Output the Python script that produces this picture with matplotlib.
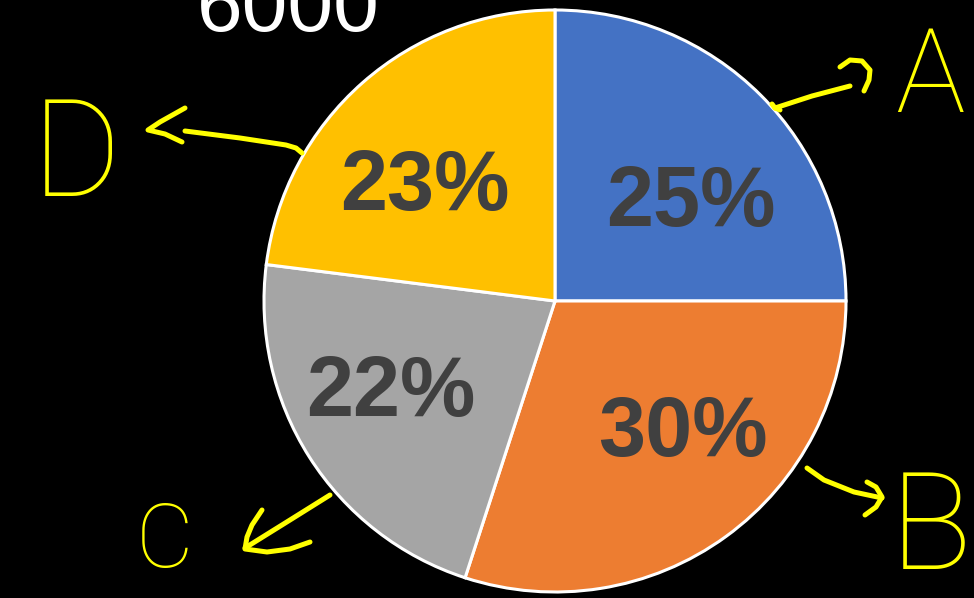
import matplotlib

matplotlib.use("Agg")
import matplotlib.pyplot as plt

W, H = 974, 598

# pie data
labels = ["A", "B", "C", "D"]
shares = [25, 30, 22, 23]
colors = ["#4472C4", "#ED7D31", "#A5A5A5", "#FFC000"]
title_text = "6000"

# where the percentage labels sit (pixel coords, baseline)
pct_pos = [(691, 226), (683, 456), (391, 416), (425, 210)]

# hand drawn annotations, pixel coords
letter_pos = {"A": (930, 112, 84), "B": (931, 569, 98), "C": (165, 567, 64), "D": (76, 196, 98)}
strokes = [
    # D arrow
    [(302, 153), (296, 148), (286, 145), (240, 138), (185, 131)],
    [(185, 108), (160, 122), (148, 130), (165, 134), (182, 142)],
    # A arrow
    [(775, 108), (812, 96), (850, 86)],
    [(840, 67), (850, 60), (862, 61), (870, 70), (869, 80), (864, 91)],
    [(772, 104), (775, 108), (780, 110)],
    # B arrow
    [(807, 468), (824, 480), (854, 492), (868, 495), (882, 498)],
    [(867, 482), (876, 487), (882, 497), (876, 507), (865, 515)],
    # C arrow
    [(330, 495), (290, 520), (245, 548)],
    [(262, 510), (252, 525), (247, 537), (245, 549), (267, 552), (290, 549), (310, 542)],
]


def px(x, y):
    return x, H - y


fig = plt.figure(figsize=(W / 100, H / 100), dpi=100, facecolor="black")
ax = fig.add_axes([0, 0, 1, 1])
ax.set_facecolor("black")

wedges, _, autotexts = ax.pie(
    shares,
    colors=colors,
    startangle=90,
    counterclock=False,
    center=px(555, 301),
    radius=291,
    autopct="%d%%",
    wedgeprops=dict(edgecolor="white", linewidth=2.2),
    textprops=dict(color="#404040", fontsize=61, fontweight="bold", family="Liberation Sans"),
)
for t, pos in zip(autotexts, pct_pos):
    t.set_position(px(*pos))
    t.set_ha("center")
    t.set_va("baseline")

ax.text(*px(288, 31), title_text, color="white", fontsize=59, family="Liberation Sans",
        ha="center", va="baseline")

for name in labels:
    x, y, size = letter_pos[name]
    ax.text(*px(x, y), name, color="#FFFF00", fontsize=size * 1.0, family="Roboto",
            fontweight="light", ha="center", va="baseline")

for s in strokes:
    xs = [p[0] for p in s]
    ys = [H - p[1] for p in s]
    ax.plot(xs, ys, color="#FFFF00", lw=3.6, solid_capstyle="round", solid_joinstyle="round")

ax.set_xlim(0, W)
ax.set_ylim(0, H)
ax.set_aspect("equal")
ax.axis("off")

fig.savefig("out.png", dpi=100, facecolor="black")
